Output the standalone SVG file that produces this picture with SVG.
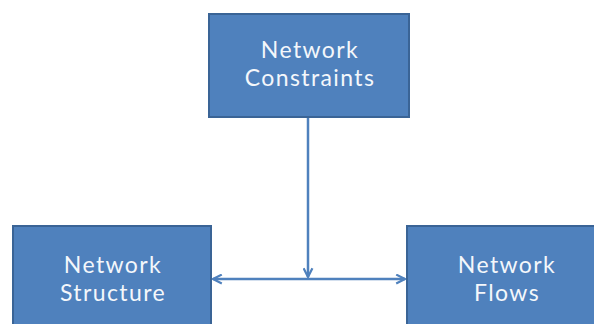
<svg xmlns="http://www.w3.org/2000/svg" width="594" height="324" viewBox="0 0 594 324">
<defs>
<style>
.box{fill:#4F81BD;stroke:#3A6496;stroke-width:2}
.lbl{font-family:Lato,"Open Sans","Liberation Sans",sans-serif;font-size:23px;letter-spacing:1.4px;fill:#F4F7FB;text-anchor:middle}
.conn{stroke:#4F81BD;stroke-width:2.5;fill:none}
</style>
<marker id="arr" viewBox="0 0 10 10" refX="9" refY="5" markerWidth="11" markerHeight="11" markerUnits="userSpaceOnUse" orient="auto-start-reverse">
<path d="M1,1 L9,5 L1,9" fill="none" stroke="#4F81BD" stroke-width="2"/>
</marker>
</defs>
<rect width="594" height="324" fill="#FFFFFF"/>
<g id="connectors">
<line class="conn" x1="213" y1="279" x2="405" y2="279" marker-start="url(#arr)" marker-end="url(#arr)"/>
<line class="conn" x1="308" y1="118" x2="308" y2="277" marker-end="url(#arr)"/>
</g>
<g id="constraints">
<rect class="box" x="209" y="14" width="200" height="103"/>
<text class="lbl" x="310" y="58">Network</text>
<text class="lbl" x="310" y="86">Constraints</text>
</g>
<g id="structure">
<rect class="box" x="13" y="226" width="198" height="110"/>
<text class="lbl" x="113" y="273">Network</text>
<text class="lbl" x="113" y="301">Structure</text>
</g>
<g id="flows">
<rect class="box" x="407" y="226" width="200" height="110"/>
<text class="lbl" x="507" y="273">Network</text>
<text class="lbl" x="507" y="301">Flows</text>
</g>
</svg>
